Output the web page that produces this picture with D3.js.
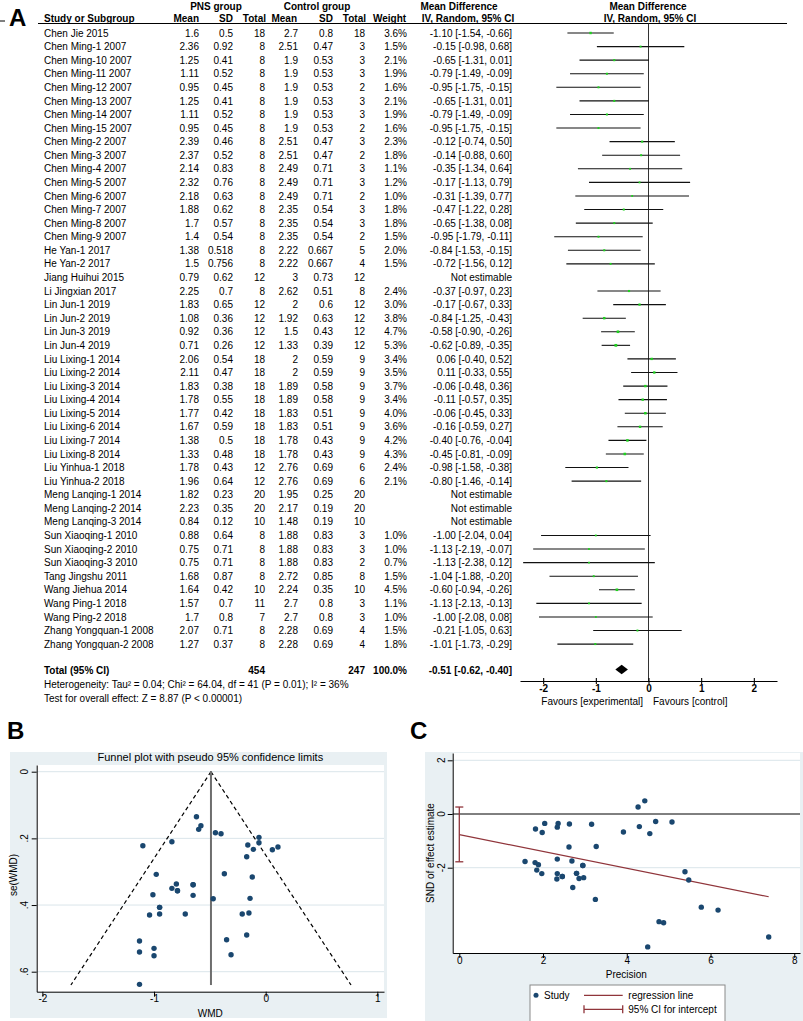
<!DOCTYPE html>
<html><head><meta charset="utf-8">
<script src="https://cdn.jsdelivr.net/npm/d3@7"></script>
<style>
body{margin:0;background:#fff}
svg{display:block}
text{font-family:Arial,"Liberation Sans",Helvetica,sans-serif;fill:#000}
</style>
</head><body>
<svg id="c" width="803" height="1021"></svg>
<script>
// ---------- Panel A data ----------
const studies = ["Chen Jie 2015","Chen Ming-1 2007","Chen Ming-10 2007","Chen Ming-11 2007","Chen Ming-12 2007","Chen Ming-13 2007","Chen Ming-14 2007","Chen Ming-15 2007","Chen Ming-2 2007","Chen Ming-3 2007","Chen Ming-4 2007","Chen Ming-5 2007","Chen Ming-6 2007","Chen Ming-7 2007","Chen Ming-8 2007","Chen Ming-9 2007","He Yan-1 2017","He Yan-2 2017","Jiang Huihui 2015","Li Jingxian 2017","Lin Jun-1 2019","Lin Jun-2 2019","Lin Jun-3 2019","Lin Jun-4 2019","Liu Lixing-1 2014","Liu Lixing-2 2014","Liu Lixing-3 2014","Liu Lixing-4 2014","Liu Lixing-5 2014","Liu Lixing-6 2014","Liu Lixing-7 2014","Liu Lixing-8 2014","Liu Yinhua-1 2018","Liu Yinhua-2 2018","Meng Lanqing-1 2014","Meng Lanqing-2 2014","Meng Lanqing-3 2014","Sun Xiaoqing-1 2010","Sun Xiaoqing-2 2010","Sun Xiaoqing-3 2010","Tang Jingshu 2011","Wang Jiehua 2014","Wang Ping-1 2018","Wang Ping-2 2018","Zhang Yongquan-1 2008","Zhang Yongquan-2 2008"];
const pnsMean = [1.6,2.36,1.25,1.11,0.95,1.25,1.11,0.95,2.39,2.37,2.14,2.32,2.18,1.88,1.7,1.4,1.38,1.5,0.79,2.25,1.83,1.08,0.92,0.71,2.06,2.11,1.83,1.78,1.77,1.67,1.38,1.33,1.78,1.96,1.82,2.23,0.84,0.88,0.75,0.75,1.68,1.64,1.57,1.7,2.07,1.27];
const pnsSD = [0.5,0.92,0.41,0.52,0.45,0.41,0.52,0.45,0.46,0.52,0.83,0.76,0.63,0.62,0.57,0.54,0.518,0.756,0.62,0.7,0.65,0.36,0.36,0.26,0.54,0.47,0.38,0.55,0.42,0.59,0.5,0.48,0.43,0.64,0.23,0.35,0.12,0.64,0.71,0.71,0.87,0.42,0.7,0.8,0.71,0.37];
const pnsN = [18,8,8,8,8,8,8,8,8,8,8,8,8,8,8,8,8,8,12,8,12,12,12,12,18,18,18,18,18,18,18,18,12,12,20,20,10,8,8,8,8,10,11,7,8,8];
const ctlMean = [2.7,2.51,1.9,1.9,1.9,1.9,1.9,1.9,2.51,2.51,2.49,2.49,2.49,2.35,2.35,2.35,2.22,2.22,3,2.62,2,1.92,1.5,1.33,2,2,1.89,1.89,1.83,1.83,1.78,1.78,2.76,2.76,1.95,2.17,1.48,1.88,1.88,1.88,2.72,2.24,2.7,2.7,2.28,2.28];
const ctlSD = [0.8,0.47,0.53,0.53,0.53,0.53,0.53,0.53,0.47,0.47,0.71,0.71,0.71,0.54,0.54,0.54,0.667,0.667,0.73,0.51,0.6,0.63,0.43,0.39,0.59,0.59,0.58,0.58,0.51,0.51,0.43,0.43,0.69,0.69,0.25,0.19,0.19,0.83,0.83,0.83,0.85,0.35,0.8,0.8,0.69,0.69];
const ctlN = [18,3,3,3,2,3,3,2,3,2,3,3,2,3,3,2,5,4,12,8,12,12,12,12,9,9,9,9,9,9,9,9,6,6,20,20,10,3,3,2,8,10,3,3,4,4];
const weight = [3.6,1.5,2.1,1.9,1.6,2.1,1.9,1.6,2.3,1.8,1.1,1.2,1.0,1.8,1.8,1.5,2.0,1.5,null,2.4,3.0,3.8,4.7,5.3,3.4,3.5,3.7,3.4,4.0,3.6,4.2,4.3,2.4,2.1,null,null,null,1.0,1.0,0.7,1.5,4.5,1.1,1.0,1.5,1.8];
const md = [-1.10,-0.15,-0.65,-0.79,-0.95,-0.65,-0.79,-0.95,-0.12,-0.14,-0.35,-0.17,-0.31,-0.47,-0.65,-0.95,-0.84,-0.72,null,-0.37,-0.17,-0.84,-0.58,-0.62,0.06,0.11,-0.06,-0.11,-0.06,-0.16,-0.40,-0.45,-0.98,-0.80,null,null,null,-1.00,-1.13,-1.13,-1.04,-0.60,-1.13,-1.00,-0.21,-1.01];
const ciLow = [-1.54,-0.98,-1.31,-1.49,-1.75,-1.31,-1.49,-1.75,-0.74,-0.88,-1.34,-1.13,-1.39,-1.22,-1.38,-1.79,-1.53,-1.56,null,-0.97,-0.67,-1.25,-0.90,-0.89,-0.40,-0.33,-0.48,-0.57,-0.45,-0.59,-0.76,-0.81,-1.58,-1.46,null,null,null,-2.04,-2.19,-2.38,-1.88,-0.94,-2.13,-2.08,-1.05,-1.73];
const ciHigh = [-0.66,0.68,0.01,-0.09,-0.15,0.01,-0.09,-0.15,0.50,0.60,0.64,0.79,0.77,0.28,0.08,-0.11,-0.15,0.12,null,0.23,0.33,-0.43,-0.26,-0.35,0.52,0.55,0.36,0.35,0.33,0.27,-0.04,-0.09,-0.38,-0.14,null,null,null,0.04,-0.07,0.12,-0.20,-0.26,-0.13,0.08,0.63,-0.29];
const totalPNS = 454, totalCtl = 247;
const pooled = {md:-0.51, lo:-0.62, hi:-0.40};
const forestTicks = [-2,-1,0,1,2];

// ---------- Panel B data (funnel) ----------
const funnelWMD = [-1.10,-0.15,-0.65,-0.79,-0.95,-0.65,-0.79,-0.95,-0.12,-0.14,-0.35,-0.17,-0.31,-0.47,-0.65,-0.95,-0.84,-0.72,-0.37,-0.17,-0.84,-0.58,-0.62,0.06,0.11,-0.06,-0.11,-0.06,-0.16,-0.40,-0.45,-0.98,-0.80,-1.00,-1.13,-1.13,-1.04,-0.60,-1.13,-1.00,-0.21,-1.01];
const funnelSE = [0.222,0.424,0.339,0.357,0.407,0.339,0.357,0.407,0.316,0.380,0.504,0.490,0.549,0.381,0.371,0.427,0.350,0.427,0.306,0.255,0.210,0.162,0.135,0.234,0.226,0.213,0.233,0.197,0.220,0.186,0.183,0.308,0.337,0.530,0.541,0.638,0.430,0.173,0.508,0.552,0.427,0.369];
const funnelCentre = -0.49;
const funnelSEmax = 0.64;
const funnelXTicks = [-2,-1,0,1];
const funnelYTicks = [0,0.2,0.4,0.6];

// ---------- Panel C data (Galbraith / Egger) ----------
const precision = [4.50,2.36,2.95,2.80,2.46,2.95,2.80,2.46,3.16,2.63,1.98,2.04,1.82,2.62,2.69,2.34,2.86,2.34,3.27,3.92,4.77,6.18,7.39,4.27,4.43,4.69,4.30,5.08,4.55,5.39,5.48,3.25,2.97,1.89,1.85,1.57,2.33,5.78,1.97,1.81,2.34,2.71,4.88];
const snd = [-4.95,-0.35,-1.92,-2.21,-2.33,-1.92,-2.21,-2.33,-0.38,-0.37,-0.69,-0.35,-0.56,-1.23,-1.75,-2.22,-2.40,-1.68,-1.21,-0.67,-4.01,-3.58,-4.58,0.26,0.49,-0.28,-0.47,-0.30,-0.73,-2.15,-2.46,-3.18,-2.37,-1.89,-2.09,-1.77,-2.42,-3.47,-2.22,-1.81,-0.49,-2.74,-4.05];
const eggerIntercept = -0.77, eggerSlope = -0.313, eggerCI = [-1.78, 0.26];
const regEnd = 7.39;
const galbXTicks = [0,2,4,6,8];
const galbYTicks = [2,0,-2];

// =====================================================
const svg = d3.select("#c");
const FONT = 'Arial,"Liberation Sans",Helvetica,sans-serif';
const fmt2 = v => v.toFixed(2);

// ---------- Panel A ----------
const A = svg.append("g");
A.append("text").attr("x",9).attr("y",26).attr("font-size",24).attr("font-weight","bold").text("A");
A.append("line").attr("x1",0).attr("x2",5).attr("y1",21).attr("y2",21).attr("stroke","#000");

const rowY = d3.scaleLinear().domain([0, studies.length-1]).range([33, 644.1]);
const xF = d3.scaleLinear().domain([-2.44, 2.44]).range([520, 777]);

// headers
const h1 = 10, h2 = 21.5;
const hdr = (x,y,t,anchor) => A.append("text").attr("x",x).attr("y",y).attr("font-size",10).attr("font-weight","bold").attr("text-anchor",anchor).text(t);
hdr(216,h1,"PNS group","middle");
hdr(317,h1,"Control group","middle");
hdr(459,h1,"Mean Difference","middle");
hdr(648,h1,"Mean Difference","middle");
hdr(44,h2,"Study or Subgroup","start");
hdr(199,h2,"Mean","end");
hdr(233,h2,"SD","end");
hdr(266,h2,"Total","end");
hdr(297,h2,"Mean","end");
hdr(333,h2,"SD","end");
hdr(366,h2,"Total","end");
hdr(373,h2,"Weight","start");
hdr(468,h2,"IV, Random, 95% CI","middle");
hdr(650,h2,"IV, Random, 95% CI","middle");
A.append("line").attr("x1",38).attr("x2",787).attr("y1",23.5).attr("y2",23.5).attr("stroke","#000").attr("stroke-width",1);

// zero line
A.append("line").attr("x1",xF(0)).attr("x2",xF(0)).attr("y1",23.5).attr("y2",681).attr("stroke","#333").attr("stroke-width",1);

const cols = [
  {x:199, v:i=>String(pnsMean[i])},
  {x:233, v:i=>String(pnsSD[i])},
  {x:265, v:i=>String(pnsN[i])},
  {x:298, v:i=>String(ctlMean[i])},
  {x:333, v:i=>String(ctlSD[i])},
  {x:365, v:i=>String(ctlN[i])},
  {x:407, v:i=>weight[i]==null?"":weight[i].toFixed(1)+"%"},
  {x:512, v:i=>md[i]==null?"Not estimable":`${fmt2(md[i])} [${fmt2(ciLow[i])}, ${fmt2(ciHigh[i])}]`}
];
const rows = A.selectAll("g.row").data(studies).join("g").attr("class","row")
  .attr("transform",(d,i)=>`translate(0,${rowY(i)})`);
rows.append("text").attr("x",44).attr("y",3.6).attr("font-size",10).text(d=>d);
cols.forEach(c=>{
  rows.append("text").attr("x",c.x).attr("y",3.6).attr("font-size",10).attr("text-anchor","end").text((d,i)=>c.v(i));
});
// CI lines and markers
const est = studies.map((d,i)=>i).filter(i=>md[i]!=null);
A.selectAll("line.ci").data(est).join("line").attr("class","ci")
  .attr("x1",i=>xF(ciLow[i])).attr("x2",i=>xF(ciHigh[i]))
  .attr("y1",i=>rowY(i)).attr("y2",i=>rowY(i)).attr("stroke","#111").attr("stroke-width",1.1);
A.selectAll("rect.mk").data(est).join("rect").attr("class","mk")
  .attr("x",i=>xF(md[i]) - (1.6+0.22*weight[i])/2)
  .attr("y",i=>rowY(i) - (1.6+0.22*weight[i])/2)
  .attr("width",i=>1.6+0.22*weight[i]).attr("height",i=>1.6+0.22*weight[i])
  .attr("fill","#1fd11f");

// Total row
const yT = 670;
const tb = (x,t,anchor) => A.append("text").attr("x",x).attr("y",yT+3.6).attr("font-size",10).attr("font-weight","bold").attr("text-anchor",anchor).text(t);
tb(44,"Total (95% CI)","start");
tb(265,String(totalPNS),"end");
tb(365,String(totalCtl),"end");
tb(407,"100.0%","end");
tb(512,`${fmt2(pooled.md)} [${fmt2(pooled.lo)}, ${fmt2(pooled.hi)}]`,"end");
const dh = 4.8;
A.append("path").attr("d",`M${xF(pooled.lo)-0.5},${yT-0.5} L${xF(pooled.md)},${yT-0.5-dh} L${xF(pooled.hi)+0.5},${yT-0.5} L${xF(pooled.md)},${yT-0.5+dh} Z`).attr("fill","#000");
A.append("text").attr("x",44).attr("y",687.8).attr("font-size",10).text("Heterogeneity: Tau² = 0.04; Chi² = 64.04, df = 41 (P = 0.01); I² = 36%");
A.append("text").attr("x",44).attr("y",701.8).attr("font-size",10).text("Test for overall effect: Z = 8.87 (P < 0.00001)");

// forest axis
const axF = A.append("g").attr("transform","translate(0,681)")
  .call(d3.axisBottom(xF).tickValues(forestTicks).tickSize(3).tickSizeOuter(0).tickFormat(d=>String(d)));
axF.select(".domain").attr("stroke","#000").attr("stroke-width",1.1);
axF.selectAll(".tick line").attr("y1",-3).attr("y2",3).attr("stroke","#000").attr("stroke-width",1.1);
axF.selectAll(".tick text").attr("font-size",10).attr("font-weight","bold").attr("font-family",FONT).attr("fill","#000")
  .attr("y",11.3).attr("dy",null);
A.append("text").attr("x",643).attr("y",704.5).attr("font-size",10).attr("text-anchor","end").text("Favours [experimental]");
A.append("text").attr("x",653).attr("y",704.5).attr("font-size",10).text("Favours [control]");

// ---------- Panel B ----------
const BG = "#e9f0f3", GRID = "#dae5ea", NAVY = "#1a476f", MAROON = "#90353b";
const B = svg.append("g");
B.append("text").attr("x",7).attr("y",739).attr("font-size",24).attr("font-weight","bold").text("B");
B.append("rect").attr("x",10).attr("y",752).attr("width",377).attr("height",266).attr("fill",BG);
const bL = 36.7, bR = 384, bT = 765, bB = 991.7;
B.append("rect").attr("x",bL).attr("y",bT).attr("width",bR-bL).attr("height",bB-bT).attr("fill","#fff");
const xB = d3.scaleLinear().domain([-2.0507, 1.0597]).range([bL, bR]);
const yB = d3.scaleLinear().domain([-0.0201, 0.66]).range([bT, bB]);
B.append("text").attr("x",(bL+bR)/2).attr("y",761).attr("font-size",11).attr("text-anchor","middle").text("Funnel plot with pseudo 95% confidence limits");
// grid
B.selectAll("line.grid").data(funnelYTicks).join("line").attr("class","grid")
  .attr("x1",bL).attr("x2",bR).attr("y1",d=>yB(d)).attr("y2",d=>yB(d)).attr("stroke",GRID).attr("stroke-width",1);
// funnel lines
B.append("line").attr("x1",xB(funnelCentre)).attr("y1",yB(0)).attr("x2",xB(funnelCentre-1.96*funnelSEmax)).attr("y2",yB(funnelSEmax))
  .attr("stroke","#000").attr("stroke-width",1.2).attr("stroke-dasharray","4,3");
B.append("line").attr("x1",xB(funnelCentre)).attr("y1",yB(0)).attr("x2",xB(funnelCentre+1.96*funnelSEmax)).attr("y2",yB(funnelSEmax))
  .attr("stroke","#000").attr("stroke-width",1.2).attr("stroke-dasharray","4,3");
B.append("line").attr("x1",xB(funnelCentre)).attr("x2",xB(funnelCentre)).attr("y1",yB(0)).attr("y2",yB(funnelSEmax))
  .attr("stroke","#6e6e6e").attr("stroke-width",2);
B.selectAll("circle.pt").data(funnelWMD).join("circle").attr("class","pt")
  .attr("cx",d=>xB(d)).attr("cy",(d,i)=>yB(funnelSE[i])).attr("r",2.7).attr("fill",NAVY);
// axes
const axBx = B.append("g").attr("transform",`translate(0,${bB})`)
  .call(d3.axisBottom(xB).tickValues(funnelXTicks).tickSize(5).tickSizeOuter(0).tickFormat(d=>String(d)));
axBx.select(".domain").attr("stroke","#000");
axBx.selectAll(".tick line").attr("stroke","#000");
axBx.selectAll(".tick text").attr("font-size",10).attr("font-family",FONT).attr("fill","#000").attr("dy","0.55em").attr("y",5);
const axBy = B.append("g").attr("transform",`translate(${bL},0)`)
  .call(d3.axisLeft(yB).tickValues(funnelYTicks).tickSize(5).tickSizeOuter(0).tickFormat(()=>""));
axBy.select(".domain").attr("stroke","#000");
axBy.selectAll(".tick line").attr("stroke","#000");
B.selectAll("text.ytl").data(funnelYTicks).join("text").attr("class","ytl")
  .attr("x",28.5).attr("y",d=>yB(d)).attr("transform",d=>`rotate(-90,28.5,${yB(d)})`)
  .attr("text-anchor","middle").attr("font-size",10).text(d=>d===0?"0":String(d).replace(/^0/,""));
B.append("text").attr("transform",`translate(16.5,875) rotate(-90)`).attr("text-anchor","middle").attr("font-size",10).text("se(WMD)");
B.append("text").attr("x",(bL+bR)/2).attr("y",1016.5).attr("text-anchor","middle").attr("font-size",10).text("WMD");

// ---------- Panel C ----------
const C = svg.append("g");
C.append("text").attr("x",410).attr("y",739).attr("font-size",24).attr("font-weight","bold").text("C");
C.append("rect").attr("x",425).attr("y",752).attr("width",378).attr("height",269).attr("fill",BG);
const cL = 452.7, cR = 800, cT = 753, cB = 953;
C.append("rect").attr("x",cL).attr("y",cT).attr("width",cR-cL).attr("height",cB-cT).attr("fill","#fff");
const xC = d3.scaleLinear().domain([(cL-459.3)/41.87, (cR-459.3)/41.87]).range([cL, cR]);
const yC = d3.scaleLinear().domain([(814-cT)/26.85, (814-cB)/26.85]).range([cT, cB]);
C.selectAll("line.grid").data([2,-2]).join("line").attr("class","grid")
  .attr("x1",cL).attr("x2",cR).attr("y1",d=>yC(d)).attr("y2",d=>yC(d)).attr("stroke",GRID);
C.append("line").attr("x1",cL).attr("x2",cR).attr("y1",yC(0)).attr("y2",yC(0)).attr("stroke","#000").attr("stroke-width",1);
// regression line
C.append("line").attr("x1",xC(0)).attr("y1",yC(eggerIntercept)).attr("x2",xC(regEnd)).attr("y2",yC(eggerIntercept+eggerSlope*regEnd))
  .attr("stroke",MAROON).attr("stroke-width",1.2);
// CI for intercept
const ciG = C.append("g").attr("stroke",MAROON).attr("stroke-width",1.3);
ciG.append("line").attr("x1",xC(0)).attr("x2",xC(0)).attr("y1",yC(eggerCI[0])).attr("y2",yC(eggerCI[1]));
eggerCI.forEach(v=>ciG.append("line").attr("x1",xC(0)-4).attr("x2",xC(0)+4).attr("y1",yC(v)).attr("y2",yC(v)));
C.selectAll("circle.pt").data(precision).join("circle").attr("class","pt")
  .attr("cx",d=>xC(d)).attr("cy",(d,i)=>yC(snd[i])).attr("r",2.7).attr("fill",NAVY);
const axCx = C.append("g").attr("transform",`translate(0,${cB})`)
  .call(d3.axisBottom(xC).tickValues(galbXTicks).tickSize(5).tickSizeOuter(0).tickFormat(d=>String(d)));
axCx.select(".domain").attr("stroke","#000");
axCx.selectAll(".tick line").attr("stroke","#000");
axCx.selectAll(".tick text").attr("font-size",10).attr("font-family",FONT).attr("fill","#000").attr("dy","0.55em").attr("y",5);
const axCy = C.append("g").attr("transform",`translate(${cL},0)`)
  .call(d3.axisLeft(yC).tickValues(galbYTicks).tickSize(5).tickSizeOuter(0).tickFormat(()=>""));
axCy.select(".domain").attr("stroke","#000");
axCy.selectAll(".tick line").attr("stroke","#000");
C.selectAll("text.ytl").data(galbYTicks).join("text").attr("class","ytl")
  .attr("x",445.2).attr("y",d=>yC(d)).attr("transform",d=>`rotate(-90,445.2,${yC(d)})`)
  .attr("text-anchor","middle").attr("font-size",10).text(d=>String(d));
C.append("text").attr("transform",`translate(433.5,853) rotate(-90)`).attr("text-anchor","middle").attr("font-size",10).text("SND of effect estimate");
C.append("text").attr("x",(cL+cR)/2).attr("y",978).attr("text-anchor","middle").attr("font-size",10).text("Precision");
// legend
const L = C.append("g");
L.append("rect").attr("x",530).attr("y",985).attr("width",195).attr("height",45).attr("fill","#fff").attr("stroke","#8a8a8a");
L.append("circle").attr("cx",536).attr("cy",995.3).attr("r",2.5).attr("fill",NAVY);
L.append("text").attr("x",544).attr("y",999).attr("font-size",10).text("Study");
L.append("line").attr("x1",584).attr("x2",622.7).attr("y1",995.3).attr("y2",995.3).attr("stroke",MAROON).attr("stroke-width",1.2);
L.append("text").attr("x",628.3).attr("y",999).attr("font-size",10).text("regression line");
const lc = L.append("g").attr("stroke",MAROON).attr("stroke-width",1.3);
lc.append("line").attr("x1",584).attr("x2",622.7).attr("y1",1009.3).attr("y2",1009.3);
[584,622.7].forEach(x=>lc.append("line").attr("x1",x).attr("x2",x).attr("y1",1005.3).attr("y2",1013.3));
L.append("text").attr("x",628.3).attr("y",1013).attr("font-size",10).text("95% CI for intercept");
</script>
</body></html>
